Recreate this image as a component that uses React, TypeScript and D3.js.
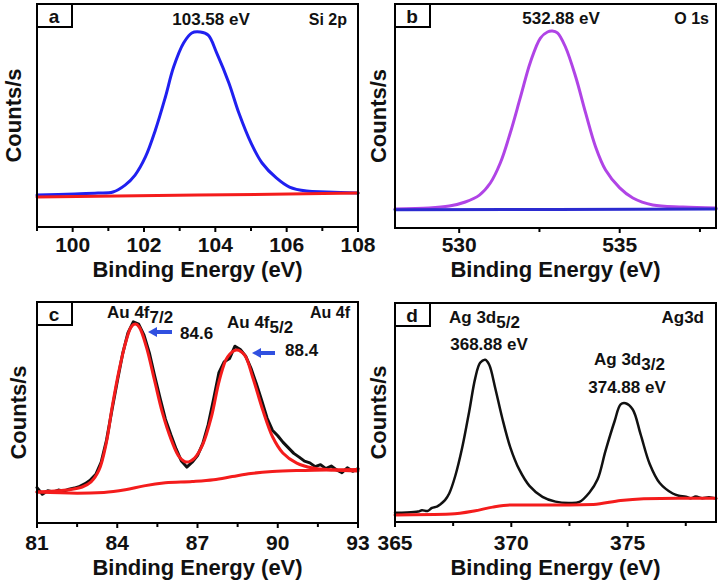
import React from "react";
import * as d3 from "d3";

const FONT = "'Liberation Sans', Arial, Helvetica, sans-serif";

// ---------- Panel a : Si 2p ----------
const siEnergy = [99.0, 100.06, 100.71, 101.13, 101.47, 101.75, 102.04, 102.32, 102.6, 102.83, 103.11, 103.34, 103.58, 103.8, 104.04, 104.38, 104.66, 105.0, 105.31, 105.71, 106.08, 106.56, 107.12, 108.0];
const siCounts = [14.3, 14.8, 15.2, 15.7, 18.8, 23.3, 31.4, 43.5, 58.3, 71.7, 82.5, 87.0, 87.4, 86.0, 78.0, 64.6, 51.1, 37.7, 28.7, 22.0, 17.9, 16.1, 15.7, 15.2];
const siBgEnergy = [99.0, 103.5, 108.0];
const siBgCounts = [13.5, 14.3, 15.2];
const siMajor = [100, 102, 104, 106, 108];
const siMinor = [99, 101, 103, 105, 107];

// ---------- Panel b : O 1s ----------
const oEnergy = [528.0, 529.06, 529.69, 530.19, 530.63, 530.97, 531.28, 531.59, 531.91, 532.22, 532.53, 532.75, 532.9, 533.06, 533.31, 533.63, 533.94, 534.25, 534.56, 535.0, 535.41, 536.03, 536.97, 538.0];
const oCounts = [8.5, 8.9, 9.8, 11.6, 14.7, 20.1, 29.0, 42.4, 58.5, 74.1, 84.8, 87.5, 87.9, 87.1, 80.8, 67.4, 51.3, 36.2, 25.9, 17.9, 13.4, 10.3, 9.4, 8.9];
const oBgEnergy = [528.0, 533.0, 538.0];
const oBgCounts = [8.2, 8.3, 8.5];
const oMajor = [530, 535];
const oMinor = [532.5, 537.5];

// ---------- Panel c : Au 4f ----------
const auRawEnergy = [81.0, 81.2, 81.4, 81.6, 81.8, 82.0, 82.2, 82.4, 82.6, 82.8, 83.0, 83.2, 83.4, 83.6, 83.8, 84.0, 84.2, 84.4, 84.6, 84.8, 85.0, 85.2, 85.4, 85.6, 85.8, 86.0, 86.2, 86.4, 86.6, 86.8, 87.0, 87.2, 87.4, 87.6, 87.8, 88.0, 88.2, 88.4, 88.6, 88.8, 89.0, 89.2, 89.4, 89.6, 89.8, 90.0, 90.2, 90.4, 90.6, 90.8, 91.0, 91.2, 91.4, 91.6, 91.8, 92.0, 92.2, 92.4, 92.6, 92.8, 93.0];
const auRawCounts = [16.0, 13.0, 14.6, 14.0, 14.9, 14.4, 15.3, 15.8, 16.6, 17.8, 19.5, 22.0, 27.5, 37.5, 51.0, 64.0, 76.5, 86.0, 91.0, 90.0, 85.0, 77.0, 66.5, 56.5, 47.0, 40.0, 33.5, 28.0, 25.3, 27.5, 30.5, 36.0, 44.5, 56.0, 68.0, 73.0, 74.5, 80.0, 78.5, 75.5, 70.0, 63.0, 55.5, 47.5, 42.0, 39.5, 36.5, 34.0, 31.5, 29.8, 28.0, 27.2, 25.5, 26.4, 24.6, 25.8, 24.0, 22.8, 25.0, 23.4, 24.6];
const auFitEnergy = [81.0, 82.09, 82.69, 83.02, 83.32, 83.59, 83.81, 84.07, 84.34, 84.52, 84.67, 84.82, 85.09, 85.39, 85.69, 86.02, 86.32, 86.59, 86.89, 87.19, 87.52, 87.82, 88.12, 88.46, 88.76, 89.06, 89.44, 89.81, 90.19, 90.71, 91.31, 92.06, 93.0];
const auFitCounts = [14.0, 14.9, 16.3, 18.6, 24.0, 36.2, 52.5, 69.2, 82.8, 88.7, 90.0, 88.7, 79.6, 64.7, 49.8, 37.6, 29.9, 27.6, 29.4, 35.3, 48.0, 64.7, 75.1, 78.3, 76.0, 66.1, 51.1, 38.9, 31.7, 27.1, 24.9, 24.0, 23.5];
const auBgEnergy = [81.0, 82.5, 83.5, 84.3, 85.0, 85.8, 86.8, 87.6, 88.3, 89.0, 89.8, 91.0, 93.0];
const auBgCounts = [14.0, 13.5, 13.8, 15.0, 16.8, 18.2, 18.8, 19.6, 21.0, 22.4, 23.3, 23.8, 24.2];
const auMajor = [81, 84, 87, 90, 93];
const auMinor = [82.5, 85.5, 88.5, 91.5];

// ---------- Panel d : Ag 3d ----------
const agEnergy = [365.0, 365.5, 366.0, 366.16, 366.4, 366.59, 366.8, 366.94, 367.15, 367.33, 367.59, 367.89, 368.19, 368.45, 368.66, 368.88, 369.05, 369.31, 369.61, 369.96, 370.34, 370.78, 371.34, 371.9, 372.5, 372.93, 373.36, 373.71, 374.05, 374.44, 374.7, 374.91, 375.22, 375.56, 375.95, 376.38, 376.94, 377.2, 377.5, 377.7, 377.93, 378.2, 378.5, 378.8];
const agCounts = [4.2, 4.3, 4.8, 5.4, 5.0, 6.4, 7.0, 8.0, 10.0, 13.0, 21.0, 34.0, 50.5, 65.7, 72.7, 74.1, 71.8, 61.1, 47.5, 34.0, 24.0, 16.5, 11.5, 9.3, 8.7, 9.2, 13.5, 19.5, 32.5, 46.0, 53.7, 54.2, 51.4, 40.0, 26.5, 17.8, 13.0, 12.0, 11.6, 10.8, 11.6, 10.9, 11.3, 10.7];
const agBgEnergy = [365.0, 367.4, 368.4, 369.2, 370.0, 371.3, 372.5, 373.53, 374.7, 375.69, 377.16, 378.8];
const agBgCounts = [3.2, 3.6, 5.0, 6.8, 7.8, 7.8, 7.8, 8.0, 9.8, 10.6, 10.9, 10.9];
const agMajor = [365, 370, 375];
const agMinor = [367.5, 372.5, 377.5];

type Box = { l: number; r: number; t: number; b: number };
type Series = { xs: number[]; ys: number[]; color: string; width: number; curve: d3.CurveFactory };

function Panel(props: {
  box: Box;
  xDomain: [number, number];
  major: number[];
  minor: number[];
  series: Series[];
  label: string;
  tickY: number;
  titleY: number;
  ylabX: number;
  children?: React.ReactNode;
}) {
  const { box, xDomain, major, minor, series, label, tickY, titleY, ylabX } = props;
  const x = d3.scaleLinear().domain(xDomain).range([box.l, box.r]);
  const y = d3.scaleLinear().domain([0, 100]).range([box.b, box.t]);
  const cx = (box.l + box.r) / 2;
  const cy = (box.t + box.b) / 2;
  return (
    <g>
      {series.map((s, i) => {
        const line = d3
          .line<number>()
          .x((_, j) => x(s.xs[j]))
          .y((v) => y(v))
          .curve(s.curve);
        return (
          <path
            key={i}
            d={line(s.ys) || ""}
            fill="none"
            stroke={s.color}
            strokeWidth={s.width}
            strokeLinejoin="round"
            strokeLinecap="round"
          />
        );
      })}
      <rect x={box.l} y={box.t} width={box.r - box.l} height={box.b - box.t} fill="none" stroke="#000" strokeWidth={2} />
      {major.map((t) => (
        <line key={"M" + t} x1={x(t)} x2={x(t)} y1={box.b} y2={box.b + 5} stroke="#000" strokeWidth={2} />
      ))}
      {minor.map((t) => (
        <line key={"m" + t} x1={x(t)} x2={x(t)} y1={box.b} y2={box.b + 4} stroke="#000" strokeWidth={2} />
      ))}
      {major.map((t) => (
        <text key={"L" + t} x={x(t)} y={tickY} textAnchor="middle" fontFamily={FONT} fontWeight="bold" fontSize={21} fill="#111">
          {t}
        </text>
      ))}
      <text x={cx} y={titleY} textAnchor="middle" fontFamily={FONT} fontWeight="bold" fontSize={22} fill="#111">
        Binding Energy (eV)
      </text>
      <text
        transform={`translate(${ylabX},${cy}) rotate(-90)`}
        textAnchor="middle"
        fontFamily={FONT}
        fontWeight="bold"
        fontSize={22}
        fill="#111"
      >
        Counts/s
      </text>
      <rect x={box.l} y={box.t} width={35} height={23} fill="#fff" stroke="#000" strokeWidth={2} />
      <text x={box.l + 17} y={box.t + 19} textAnchor="middle" fontFamily={FONT} fontWeight="bold" fontSize={19} fill="#111">
        {label}
      </text>
      {props.children}
    </g>
  );
}

function Arrow({ x1, x2, y }: { x1: number; x2: number; y: number }) {
  // arrow pointing left: head at x1
  return (
    <g fill="#3050e0" stroke="none">
      <path d={`M${x1},${y} L${x1 + 9},${y - 5} L${x1 + 9},${y + 5} Z`} />
      <rect x={x1 + 8} y={y - 2} width={x2 - x1 - 8} height={4} />
    </g>
  );
}

const T = (p: any) => <text fontFamily={FONT} fontWeight="bold" fill="#111" {...p} />;

export default function App() {
  const boxA: Box = { l: 37, r: 358, t: 4, b: 227 };
  const boxB: Box = { l: 395, r: 716, t: 4, b: 228 };
  const boxC: Box = { l: 37, r: 358, t: 302, b: 523 };
  const boxD: Box = { l: 395, r: 716, t: 303, b: 522 };
  const red = "#f41c1c";
  const smooth = d3.curveCatmullRom.alpha(0.5);
  return (
    <svg width={723} height={585} style={{ position: "absolute", left: 0, top: 0, background: "#fff" }}>
      <rect width={723} height={585} fill="#fff" />
      <Panel
        box={boxA}
        xDomain={[99, 108]}
        major={siMajor}
        minor={siMinor}
        label="a"
        tickY={252}
        titleY={277}
        ylabX={21}
        series={[
          { xs: siEnergy, ys: siCounts, color: "#2020f0", width: 3, curve: smooth },
          { xs: siBgEnergy, ys: siBgCounts, color: red, width: 3, curve: d3.curveLinear },
        ]}
      >
        <T x={211} y={25} textAnchor="middle" fontSize={17}>103.58 eV</T>
        <T x={347} y={25} textAnchor="end" fontSize={16}>Si 2p</T>
      </Panel>
      <Panel
        box={boxB}
        xDomain={[528, 538]}
        major={oMajor}
        minor={oMinor}
        label="b"
        tickY={252}
        titleY={277}
        ylabX={386}
        series={[
          { xs: oEnergy, ys: oCounts, color: "#b044e6", width: 3, curve: smooth },
          { xs: oBgEnergy, ys: oBgCounts, color: "#2b2bd0", width: 3, curve: d3.curveLinear },
        ]}
      >
        <T x={561} y={24} textAnchor="middle" fontSize={17}>532.88 eV</T>
        <T x={709} y={24} textAnchor="end" fontSize={16}>O 1s</T>
      </Panel>
      <Panel
        box={boxC}
        xDomain={[81, 93]}
        major={auMajor}
        minor={auMinor}
        label="c"
        tickY={550}
        titleY={575}
        ylabX={26}
        series={[
          { xs: auRawEnergy, ys: auRawCounts, color: "#111", width: 3, curve: d3.curveLinear },
          { xs: auFitEnergy, ys: auFitCounts, color: red, width: 3, curve: smooth },
          { xs: auBgEnergy, ys: auBgCounts, color: red, width: 3, curve: d3.curveMonotoneX },
        ]}
      >
        <T x={107} y={318} fontSize={17}>
          Au 4f<tspan dy={5}>7/2</tspan>
        </T>
        <Arrow x1={148} x2={172} y={332} />
        <T x={180} y={339} fontSize={17}>84.6</T>
        <T x={227} y={328} fontSize={17}>
          Au 4f<tspan dy={5}>5/2</tspan>
        </T>
        <Arrow x1={252} x2={275} y={353} />
        <T x={285} y={356} fontSize={17}>88.4</T>
        <T x={350} y={318} textAnchor="end" fontSize={16}>Au 4f</T>
      </Panel>
      <Panel
        box={boxD}
        xDomain={[365, 378.8]}
        major={agMajor}
        minor={agMinor}
        label="d"
        tickY={550}
        titleY={575}
        ylabX={386}
        series={[
          { xs: agEnergy, ys: agCounts, color: "#111", width: 2.5, curve: smooth },
          { xs: agBgEnergy, ys: agBgCounts, color: red, width: 3, curve: d3.curveMonotoneX },
        ]}
      >
        <T x={449} y={323} fontSize={17}>
          Ag 3d<tspan dy={5}>5/2</tspan>
        </T>
        <T x={489} y={350} textAnchor="middle" fontSize={17}>368.88 eV</T>
        <T x={594} y={365} fontSize={17}>
          Ag 3d<tspan dy={5}>3/2</tspan>
        </T>
        <T x={627} y={393} textAnchor="middle" fontSize={17}>374.88 eV</T>
        <T x={704} y={323} textAnchor="end" fontSize={17}>Ag3d</T>
      </Panel>
    </svg>
  );
}
